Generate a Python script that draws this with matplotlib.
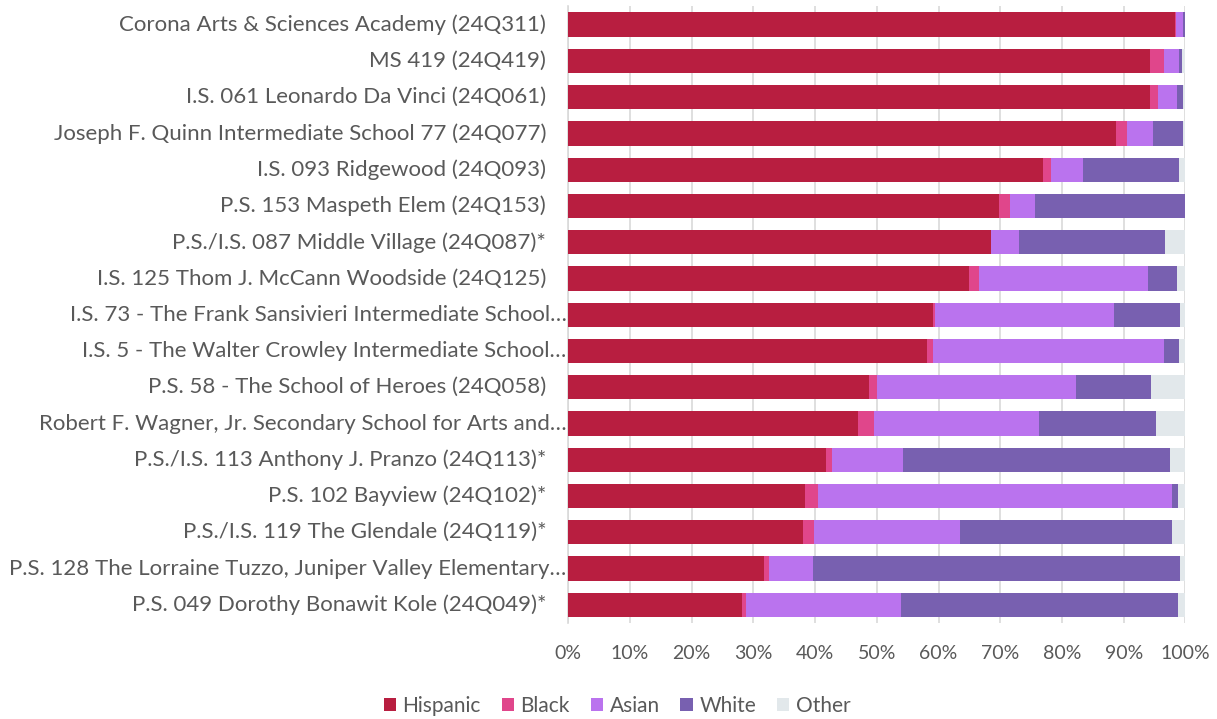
import matplotlib.pyplot as plt
import matplotlib.transforms as mtransforms
import numpy as np

schools = [
    "Corona Arts & Sciences Academy (24Q311)",
    "MS 419 (24Q419)",
    "I.S. 061 Leonardo Da Vinci (24Q061)",
    "Joseph F. Quinn Intermediate School 77 (24Q077)",
    "I.S. 093 Ridgewood (24Q093)",
    "P.S. 153 Maspeth Elem (24Q153)",
    "P.S./I.S. 087 Middle Village (24Q087)*",
    "I.S. 125 Thom J. McCann Woodside (24Q125)",
    "I.S. 73 - The Frank Sansivieri Intermediate School\u2026",
    "I.S. 5 - The Walter Crowley Intermediate School\u2026",
    "P.S. 58 - The School of Heroes (24Q058)",
    "Robert F. Wagner, Jr. Secondary School for Arts and\u2026",
    "P.S./I.S. 113 Anthony J. Pranzo (24Q113)*",
    "P.S. 102 Bayview (24Q102)*",
    "P.S./I.S. 119 The Glendale (24Q119)*",
    "P.S. 128 The Lorraine Tuzzo, Juniper Valley Elementary\u2026",
    "P.S. 049 Dorothy Bonawit Kole (24Q049)*",
]

# shares in percent
hispanic = [98.3, 94.2, 94.2, 88.7, 77.0, 69.8, 68.5, 65.0, 59.1, 58.1, 48.8, 46.9, 41.7, 38.4, 38.0, 31.7, 28.2]
black    = [0.2, 2.3, 1.3, 1.8, 1.2, 1.8, 0.0, 1.6, 0.4, 1.0, 1.2, 2.7, 1.1, 2.1, 1.8, 0.8, 0.6]
asian    = [1.1, 2.5, 3.1, 4.2, 5.2, 4.0, 4.6, 27.4, 29.0, 37.4, 32.2, 26.6, 11.4, 57.3, 23.7, 7.1, 25.1]
white    = [0.4, 0.4, 1.0, 4.9, 15.6, 24.4, 23.6, 4.6, 10.7, 2.5, 12.3, 19.1, 43.3, 1.0, 34.3, 59.6, 44.9]
other    = [0.0, 0.6, 0.4, 0.4, 1.0, 0.0, 3.3, 1.4, 0.8, 1.0, 5.5, 4.7, 2.5, 1.2, 2.2, 0.8, 1.2]

groups = ["Hispanic", "Black", "Asian", "White", "Other"]
colors = ["#B81E40", "#E0468B", "#BA73EE", "#7860B0", "#E2E8EB"]

plt.rcParams['font.family'] = ['Lato', 'DejaVu Sans']
text_col = "#595959"

fig = plt.figure(figsize=(12.17, 7.19), dpi=100)
ax = fig.add_axes([0.467, 0.1335, 0.507, 0.8575])

y = np.arange(len(schools))
left = np.zeros(len(schools))
for name, vals, c in zip(groups, [hispanic, black, asian, white, other], colors):
    vals = np.array(vals)
    ax.barh(y, vals, left=left, height=0.67, color=c, label=name, linewidth=0, zorder=3)
    left += vals

ax.set_xlim(0, 100)
ax.set_ylim(len(schools) - 0.5, -0.5)
ax.set_yticks(y)
ax.set_yticklabels([])
# category labels: truncated ones run up to the axis like in Excel
trans = mtransforms.blended_transform_factory(ax.transAxes, ax.transData)
for i, s in enumerate(schools):
    xpos = -0.003 if s.endswith("\u2026") else -0.036
    ax.text(xpos, i, s, transform=trans, ha='right', va='center',
            fontsize=16, color=text_col)

ax.set_xticks(np.arange(0, 101, 10))
ax.set_xticklabels([f"{v}%" for v in range(0, 101, 10)], fontsize=14, color=text_col)
ax.tick_params(axis='both', length=0)
ax.tick_params(axis='x', pad=16)
ax.grid(axis='x', color="#d9d9d9", linewidth=1.2, zorder=0)
for s in ['top', 'right', 'bottom']:
    ax.spines[s].set_visible(False)
ax.spines['left'].set_color("#d9d9d9")
ax.spines['left'].set_linewidth(1.2)

fig.legend(loc='lower center', bbox_to_anchor=(0.507, -0.022), ncol=5, frameon=False,
           fontsize=15, handlelength=0.6, handleheight=0.6, handletextpad=0.3,
           columnspacing=1.0, labelcolor=text_col)

fig.savefig("out.png", dpi=100)
